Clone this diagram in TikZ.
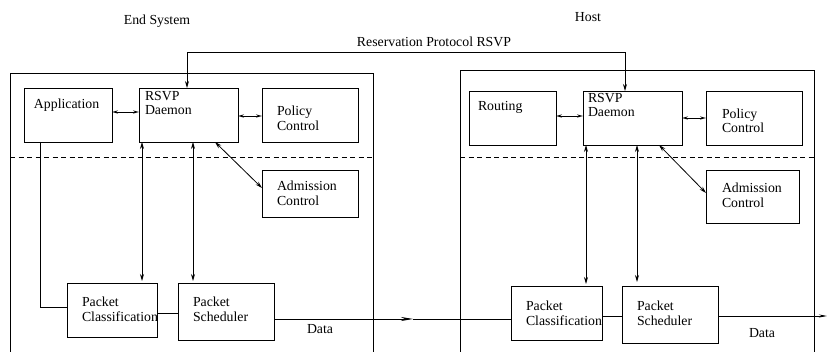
\documentclass[tikz,border=0pt]{standalone}
\usepackage{fontspec}
\setmainfont{Liberation Serif}
\usetikzlibrary{arrows.meta}
\begin{document}
\begin{tikzpicture}[x=1pt,y=-1pt,
  every node/.style={inner sep=0pt,outer sep=0pt},
  txt/.style={anchor=base west,font=\fontsize{13.8}{15}\selectfont},
  ttl/.style={anchor=base,font=\fontsize{13.8}{15}\selectfont},
  boxx/.style={draw,line width=0.8pt,anchor=north west},
  ln/.style={line width=0.8pt},
  bar/.style={line width=0.8pt,{Stealth[length=6pt,width=3.2pt,open]}-{Stealth[length=6pt,width=3.2pt,open]}},
  both/.style={line width=0.8pt,{Stealth[length=7pt,width=4pt]}-{Stealth[length=7pt,width=4pt]}}
]
\useasboundingbox (0,0) rectangle (828,352);
\fill[white] (0,0) rectangle (828,352);

% titles
\node[ttl] (tEnd) at (157,25) {End System};
\node[ttl] (tHost) at (588,22) {Host};
\node[ttl] (tRes) at (434,47) {Reservation Protocol RSVP};

% outer frames
\draw[ln] (10,352) -- (10,73) -- (373,73) -- (373,352);
\draw[ln] (460,352) -- (460,70) -- (814,70) -- (814,352);
\draw[ln,dash pattern=on 5pt off 3.5pt] (10,157) -- (373,157);
\draw[ln,dash pattern=on 5pt off 3.5pt] (460,157) -- (814,157);

% ---- left system boxes
\node[boxx,minimum width=88pt,minimum height=54pt] (app) at (24,88) {};
\node[boxx,minimum width=99pt,minimum height=54pt] (rsvpL) at (139,88) {};
\node[boxx,minimum width=96pt,minimum height=54pt] (polL) at (262,88) {};
\node[boxx,minimum width=96pt,minimum height=47pt] (admL) at (262,170) {};
\node[boxx,minimum width=90pt,minimum height=54pt] (clsL) at (67,283) {};
\node[boxx,minimum width=96pt,minimum height=57pt] (schL) at (178,283) {};

\node[txt] (tApp) at (34,109) {Application};
\node[txt] (tRL1) at (145,101) {RSVP};
\node[txt] (tRL2) at (145,115) {Daemon};
\node[txt] (tPL1) at (277,116) {Policy};
\node[txt] (tPL2) at (277,131) {Control};
\node[txt] (tAL1) at (277,191) {Admission};
\node[txt] (tAL2) at (277,206) {Control};
\node[txt] (tCL1) at (82,307) {Packet};
\node[txt] (tCL2) at (82,322) {Classification};
\node[txt] (tSL1) at (193,307) {Packet};
\node[txt] (tSL2) at (193,322) {Scheduler};
\node[txt] (tDL) at (307,334) {Data};

% ---- right system boxes
\node[boxx,minimum width=87pt,minimum height=54pt] (rout) at (469,91) {};
\node[boxx,minimum width=99pt,minimum height=54pt] (rsvpR) at (583,91) {};
\node[boxx,minimum width=96pt,minimum height=54pt] (polR) at (706,91) {};
\node[boxx,minimum width=93pt,minimum height=53pt] (admR) at (706,170) {};
\node[boxx,minimum width=91pt,minimum height=54pt] (clsR) at (511,286) {};
\node[boxx,minimum width=96pt,minimum height=57pt] (schR) at (622,286) {};

\node[txt] (tRo) at (478,111) {Routing};
\node[txt] (tRR1) at (588,103) {RSVP};
\node[txt] (tRR2) at (588,117) {Daemon};
\node[txt] (tPR1) at (722,119) {Policy};
\node[txt] (tPR2) at (722,133) {Control};
\node[txt] (tAR1) at (722,193) {Admission};
\node[txt] (tAR2) at (722,208) {Control};
\node[txt] (tCR1) at (526,311) {Packet};
\node[txt] (tCR2) at (526,326) {Classification};
\node[txt] (tSR1) at (637,311) {Packet};
\node[txt] (tSR2) at (637,326) {Scheduler};
\node[txt] (tDR) at (749,338) {Data};

% ---- RSVP protocol
\draw[both] (rsvpL.north west -| 187,0) -- (187,52) -- (625,52) -- (rsvpR.north west -| 625,0);

% ---- left connectors
\draw[bar] (app.east |- 0,112) -- (rsvpL.west |- 0,112);
\draw[bar] (rsvpL.east |- 0,116) -- (polL.west |- 0,116);
\draw[both] (rsvpL.south west -| 142,0) -- (142,281);
\draw[both] (rsvpL.south west -| 193,0) -- (193,281);
\draw[both] (215,142) -- (262,188);
\draw[ln] (app.south west -| 40,0) -- (40,307) -- (clsL.west |- 0,307);
\draw[ln] (clsL.east |- 0,313) -- (schL.west |- 0,313);
\coordinate (dmid) at (413,319);
\draw[ln,-{Stealth[length=12pt,width=4pt]}] (schL.east |- 0,319) -- (dmid);
\draw[ln] (dmid) -- (clsR.west |- 0,319);

% ---- right connectors
\draw[bar] (rout.east |- 0,116) -- (rsvpR.west |- 0,116);
\draw[bar] (rsvpR.east |- 0,118) -- (polR.west |- 0,118);
\draw[both] (rsvpR.south west -| 586,0) -- (586,284);
\draw[both] (rsvpR.south west -| 637,0) -- (637,282);
\draw[both] (659,145) -- (706,193);
\draw[ln] (clsR.east |- 0,316) -- (schR.west |- 0,316);
\coordinate (dend) at (827,316);
\draw[ln,-{Stealth[length=8pt,width=3pt]}] (schR.east |- 0,316) -- (dend);
\end{tikzpicture}
\end{document}
